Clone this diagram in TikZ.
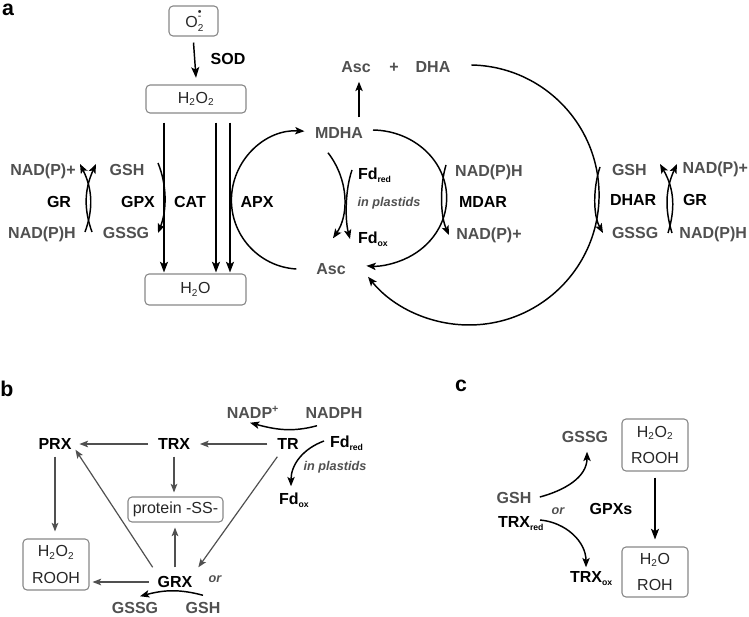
\documentclass[tikz,border=0pt]{standalone}
\usepackage{fontspec}
\setmainfont{Liberation Sans}
\usetikzlibrary{arrows.meta}
\definecolor{gtext}{RGB}{80,80,80}
\definecolor{gbox}{RGB}{135,135,135}
\definecolor{garrow}{RGB}{80,80,80}
\newcommand{\sbs}[1]{\textsubscript{\fontsize{6.5}{6.5}\selectfont #1}}
\newcommand{\sbx}[1]{\textsubscript{\fontsize{7.5}{7.5}\selectfont #1}}
\newcommand{\osup}{O\rlap{\raisebox{-0.5ex}{\fontsize{7.5}{7.5}\selectfont 2}}\rlap{\raisebox{0.95ex}{\fontsize{8}{8}\selectfont -}}\raisebox{1.5ex}{\fontsize{8}{8}\selectfont\textbullet}}
\begin{document}
\begin{tikzpicture}[x=0.75pt, y=0.75pt,
 lbl/.style={inner sep=0pt, outer sep=0pt, text height=8.6pt, text depth=0pt, font=\fontsize{12}{14}\selectfont\bfseries},
 gl/.style={lbl, text=gtext},
 kl/.style={lbl, text=black},
 il/.style={lbl, text height=6.8pt, font=\fontsize{9.5}{11}\selectfont\bfseries\itshape, text=gtext},
 pl/.style={inner sep=0pt, font=\fontsize{16}{16}\selectfont\bfseries},
 bx/.style={draw=gbox, rounded corners=3pt, line width=0.8pt, inner sep=0pt, font=\fontsize{12}{20}\selectfont, align=center, text=black!85},
 arr/.style={-{Stealth[length=7pt,width=5.5pt,inset=1.6pt]}, line width=1.1pt},
 bigarr/.style={-{Stealth[length=8pt,width=6pt,inset=1.8pt]}, line width=1.3pt},
 garr/.style={-{Stealth[length=6.5pt,width=5pt,inset=1.5pt]}, line width=0.9pt, draw=garrow}]
\useasboundingbox (0,0) rectangle (749,-617);

% ---------------- panel a ----------------
\node[pl] (la) at (8,-10) {a};
\node[bx, minimum width=36.75pt, minimum height=22.5pt] (O2) at (193.5,-21) {\osup};
\node[bx, minimum width=75pt, minimum height=21pt] (H2O2) at (196,-99) {H\sbx{2}O\sbx{2}};
\node[bx, minimum width=75.75pt, minimum height=23.25pt] (H2O) at (195.5,-289.5) {H\sbx{2}O};
\node[kl] (SOD) at (228,-59) {SOD};
\draw[bigarr, line width=1.1pt] ([yshift=-4.5pt]O2.south) -- ([yshift=5pt]H2O2.north);

\path (164,0) coordinate (x1) (216,0) coordinate (x2) (230,0) coordinate (x3);
\foreach \c in {x1,x2,x3}
  \draw[bigarr, shorten <=6.75pt, shorten >=0.75pt] (H2O2.south -| \c) -- (H2O.north -| \c);

\node[gl] (npl) at (43,-170) {NAD(P)+};
\node[kl] (grl) at (59,-202) {GR};
\node[gl] (nphl) at (42,-233) {NAD(P)H};
\node[gl] (gshl) at (127,-170) {GSH};
\node[kl] (gpx) at (138,-202) {GPX};
\node[gl] (gssgl) at (126,-233) {GSSG};
\node[kl] (cat) at (190,-202) {CAT};
\node[kl] (apx) at (257,-202) {APX};

\coordinate (gl1b) at (85,-232); \coordinate (gl1t) at (80,-164);
\coordinate (gl2b) at (92,-232); \coordinate (gl2t) at (96,-164);
\draw[arr] (gl1b) .. controls (93,-210) and (93,-190) .. (gl1t);
\draw[arr] (gl2b) .. controls (84,-210) and (84,-190) .. (gl2t);

\coordinate (gpa) at (158,-163); \coordinate (gpb) at (158,-233);
\draw[arr] (gpa) .. controls (167,-185) and (167,-210) .. (gpb);

\node[gl] (asct) at (356,-67) {Asc};
\node[gl] (plus) at (394,-67) {+};
\node[gl] (dha) at (433,-67) {DHA};
\node[gl] (mdha) at (339,-133) {MDHA};
\node[gl] (asc) at (331,-269) {Asc};
\draw[arr] ([shift={(20,10)}]mdha.north) -- ([shift={(3,-9)}]asct.south);

% APX cycle
\draw[arr] ([shift={(-20,0)}]asc.west) arc[start angle=266.6, end angle=86.6, radius=69];
% MDAR cycle
\draw[arr] ([shift={(10,3)}]mdha.east) arc[start angle=89, end angle=-94, x radius=75, y radius=68];
% DHA back to Asc
\draw[arr] ([shift={(21,2)}]dha.east) arc[start angle=89, end angle=-141, radius=130];

\node[kl, anchor=west] (fdr) at (358,-174) {Fd\sbs{red}};
\node[kl, anchor=west] (fdo) at (358,-238) {Fd\sbs{ox}};
\node[il] (inp) at (389,-202) {in plastids};
\draw[arr] ([shift={(-11,-14)}]mdha.south) .. controls (349,-180) and (349,-215) .. ([shift={(2,25)}]asc.north);
\draw[arr] ([shift={(-6,4)}]fdr.west) .. controls (345,-190) and (345,-220) .. ([shift={(-8,-1)}]fdo.west);

\node[gl] (nphm) at (489,-171) {NAD(P)H};
\node[kl] (mdar) at (483,-202) {MDAR};
\node[gl] (npm) at (489,-234) {NAD(P)+};
\coordinate (mda) at (446,-165); \coordinate (mdb) at (449,-235);
\draw[arr] (mda) .. controls (440,-185) and (440,-215) .. (mdb);

\node[gl, anchor=west] (gshr) at (612,-170) {GSH};
\node[kl, anchor=west] (dhar) at (610,-200) {DHAR};
\node[gl, anchor=west] (gssgr) at (612,-233) {GSSG};
\coordinate (dha1) at (600,-167); \coordinate (dha2) at (603,-233);
\draw[arr] (dha1) .. controls (593,-188) and (593,-215) .. (dha2);

\node[gl, anchor=east] (npr) at (748,-168) {NAD(P)+};
\node[kl, anchor=west] (grr) at (683,-200) {GR};
\node[gl, anchor=east] (nphr) at (747,-233) {NAD(P)H};
\coordinate (gr1b) at (668,-233); \coordinate (gr1t) at (660,-164);
\coordinate (gr2b) at (672,-233); \coordinate (gr2t) at (677,-164);
\draw[arr] (gr1b) .. controls (675,-210) and (675,-190) .. (gr1t);
\draw[arr] (gr2b) .. controls (665,-210) and (665,-190) .. (gr2t);

% ---------------- panel b ----------------
\node[pl] (lb) at (7,-389) {b};
\node[gl] (nadpp) at (253,-413) {NADP\textsuperscript{+}};
\node[gl] (nadph) at (334,-413) {NADPH};
\node[kl] (prx) at (55,-444) {PRX};
\node[kl] (trx) at (174,-444) {TRX};
\node[kl] (tr) at (288,-444) {TR};
\node[kl, anchor=west] (fdrb) at (330,-442) {Fd\sbs{red}};
\node[il] (inpb) at (335,-466) {in plastids};
\node[kl, anchor=west] (fdob) at (279,-499) {Fd\sbs{ox}};
\node[bx, minimum width=71.25pt, minimum height=18.75pt] (prot) at (175.5,-509.5) {protein -SS-};
\node[bx, minimum width=49.5pt, minimum height=38.25pt] (hr) at (56,-564.5) {H\sbx{2}O\sbx{2}\\ROOH};
\node[kl] (grx) at (175,-582) {GRX};
\node[il] (orb) at (215,-578) {or};
\node[gl] (gssgb) at (135,-608) {GSSG};
\node[gl] (gshb) at (203,-608) {GSH};

\draw[garr, shorten <=7.5pt, shorten >=6pt] (trx.west) -- (prx.east);
\draw[garr, shorten <=7.5pt, shorten >=7.5pt] (tr.west) -- (trx.east);
\draw[garr, shorten <=5.25pt, shorten >=5.25pt] (prx.south) -- (prx.south |- hr.north);
\draw[garr, shorten <=5.25pt, shorten >=3pt] (trx.south) -- (trx.south |- prot.north);
\draw[garr, shorten <=6.75pt, shorten >=3.75pt] (grx.north) -- (grx.north |- prot.south);
\draw[garr, shorten <=6.75pt, shorten >=2.25pt] (grx.west) -- (grx.west -| hr.east);
\draw[garr] ([shift={(-5,9)}]grx.north west) -- ([shift={(4,0)}]prx.south east);
\draw[garr] ([shift={(0,-7)}]tr.south west) -- ([shift={(6,9)}]grx.north east);

\draw[arr] ([shift={(-17,-7)}]nadph.south) to[out=195,in=-15] ([shift={(-3,-4)}]nadpp.south);
\draw[arr] ([shift={(-6,1)}]fdrb.west) to[out=200,in=90] ([shift={(12,7)}]fdob.north west);
\draw[arr] ([shift={(0,7)}]gshb.north) to[out=165,in=15] ([shift={(5,6)}]gssgb.north);

% ---------------- panel c ----------------
\node[pl] (lc) at (461,-386) {c};
\node[gl] (gssgc) at (585,-437) {GSSG};
\node[bx, minimum width=49.5pt, minimum height=39pt] (hrc) at (655,-445) {H\sbx{2}O\sbx{2}\\ROOH};
\node[bx, minimum width=49.5pt, minimum height=37.5pt] (hoc) at (655,-572) {H\sbx{2}O\\ROH};
\node[kl] (gpxs) at (611,-509) {GPXs};
\node[gl] (gshc) at (514,-498) {GSH};
\node[il] (orc) at (558,-510) {or};
\node[kl, anchor=west] (trxr) at (498,-522) {TRX\sbs{red}};
\node[kl, anchor=west] (trxo) at (570,-577) {TRX\sbs{ox}};
\draw[bigarr, line width=1.1pt, shorten <=4.5pt, shorten >=5.25pt] (hrc.south) -- (hoc.north);
\draw[arr] ([shift={(8.5,1)}]gshc.east) to[out=15,in=-90] ([shift={(2,-9)}]gssgc.south);
\draw[arr] ([shift={(42,2)}]trxr.west) to[out=-5,in=90] ([shift={(16,4)}]trxo.north west);
\end{tikzpicture}
\end{document}
